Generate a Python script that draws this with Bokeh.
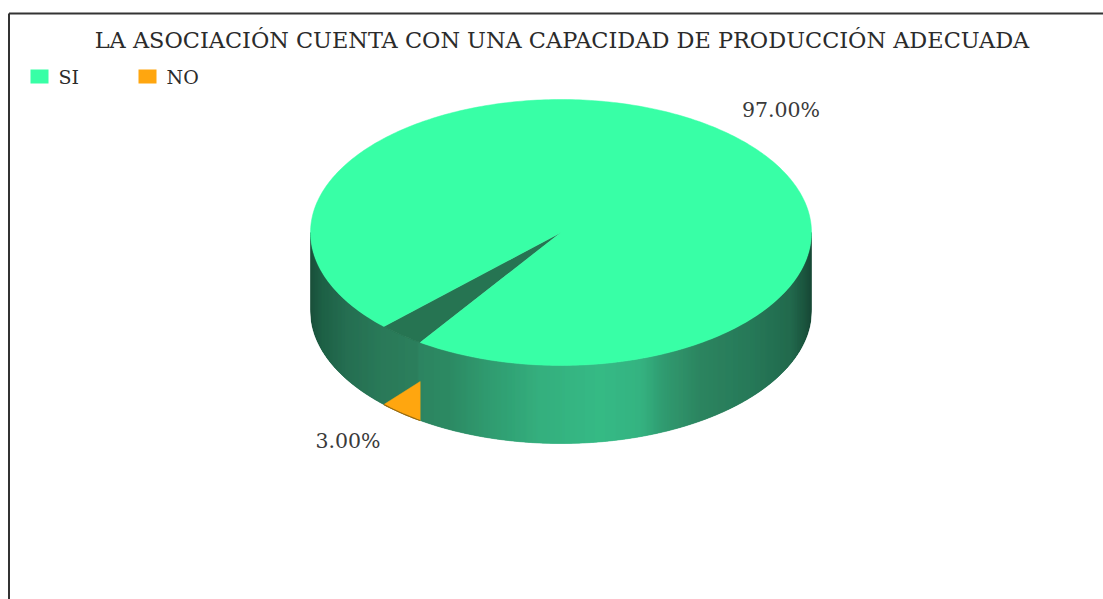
import numpy as np
from bokeh.core.properties import value
from bokeh.embed import file_html
from bokeh.models import Range1d
from bokeh.plotting import figure
from bokeh.resources import INLINE

# Chart content
title = "LA ASOCIACIÓN CUENTA CON UNA CAPACIDAD DE PRODUCCIÓN ADECUADA"
categories = ["SI", "NO"]
shares = [97.0, 3.0]
colors = ["#38FFA6", "#FFA60F"]

# Shading of the cylinder wall, left to right across the pie
wall_stops_x = [310, 322, 345, 380, 417, 419, 450, 490, 540, 600, 640, 665, 700, 750, 790, 803, 811]
wall_stops_r = [16, 20, 28, 33, 36, 36, 36, 40, 44, 46, 44, 40, 36, 30, 25, 18, 14]
wall_stops_g = [72, 90, 104, 116, 122, 128, 134, 152, 172, 184, 176, 150, 128, 116, 100, 80, 64]
wall_stops_b = [50, 62, 74, 82, 86, 90, 94, 107, 121, 129, 124, 106, 90, 82, 70, 56, 46]

# Pie geometry in page pixels
cx, cy, rx, ry, depth = 560.5, 232.0, 250.5, 133.0, 78.0
no_end_deg = 135.0  # where the NO slice ends, clockwise on screen from +x

FONT = value("DejaVu Serif")
TEXT = "#2b2b2b"

p = figure(width=1103, height=599, output_backend="svg", toolbar_location=None,
           x_range=Range1d(0, 1103), y_range=Range1d(599, 0), min_border=0)
p.axis.visible = False
p.grid.visible = False
p.outline_line_color = None


def rim(deg, drop=0.0):
    t = np.radians(deg)
    return cx + rx * np.cos(t), cy + ry * np.sin(t) + drop


def wall_color(x):
    r = np.interp(x, wall_stops_x, wall_stops_r)
    g = np.interp(x, wall_stops_x, wall_stops_g)
    b = np.interp(x, wall_stops_x, wall_stops_b)
    return "#%02x%02x%02x" % (int(r), int(g), int(b))


# Frame: only the top and left rules are drawn
p.line([8.5, 8.5], [599, 13], line_color="#333333", line_width=2)
p.line([8.5, 1103], [13, 13], line_color="#333333", line_width=2)

# Slice angles follow from the shares
no_sweep = shares[1] / sum(shares) * 360.0
no_start_deg = no_end_deg - no_sweep

# Cylinder wall as thin vertical strips, so the shading reads as a gradient
edges = np.arange(cx - rx, cx + rx + 1.0, 1.0)
xs_w, ys_w, cols_w = [], [], []
for x0, x1 in zip(edges[:-1], edges[1:]):
    x1 = min(x1, cx + rx)
    y0 = cy + ry * np.sqrt(max(0.0, 1 - ((x0 - cx) / rx) ** 2))
    y1 = cy + ry * np.sqrt(max(0.0, 1 - ((x1 - cx) / rx) ** 2))
    xs_w.append([x0, x1, x1, x0])
    ys_w.append([y0, y1, y1 + depth, y0 + depth])
    cols_w.append(wall_color((x0 + x1) / 2))
p.patches(xs_w, ys_w, fill_color=cols_w, line_color=cols_w, line_width=0.6)

# NO slice: the orange facet low on the outer wall
arc = np.linspace(no_end_deg, no_start_deg, 12)
ox, oy = rim(arc, depth)
corner_x, corner_y = rim(no_start_deg, depth * 0.5)
p.patch(list(ox) + [corner_x], list(oy) + [corner_y],
        fill_color=colors[1], line_color=colors[1], line_width=0.5)
p.line(list(ox), list(oy), line_color="#9a6a10", line_width=1.2)

# NO slice: dark recess on the top face
arc = np.linspace(no_start_deg, no_end_deg, 12)
wx, wy = rim(arc)
p.patch([cx] + list(wx), [cy] + list(wy), fill_color="#267452", line_color="#267452", line_width=0.5)

# SI slice: top face
arc = np.linspace(no_end_deg, no_start_deg + 360.0, 400)
tx, ty = rim(arc)
p.patch([cx] + list(tx), [cy] + list(ty), fill_color=colors[0], line_color=colors[0], line_width=0.5)

# Title
p.text([561.5], [39], text=[title], text_font=FONT, text_font_size="22.4px",
       text_color=TEXT, text_align="center", text_baseline="middle")

# Legend
legend_x = [30, 138]
p.quad(left=legend_x, right=[x + 18 for x in legend_x], top=[69, 69], bottom=[83, 83],
       fill_color=colors, line_color=None)
p.text([x + 28 for x in legend_x], [76.5, 76.5], text=categories, text_font=FONT,
       text_font_size="19px", text_color=TEXT, text_align="left", text_baseline="middle")

# Value labels
labels = ["%.2f%%" % s for s in shares]
p.text([780.5, 347.5], [109, 440], text=labels, text_font=FONT, text_font_size="20.5px",
       text_color="#3a3a3a", text_align="center", text_baseline="middle")

open("out.html", "w").write(file_html(p, INLINE))
